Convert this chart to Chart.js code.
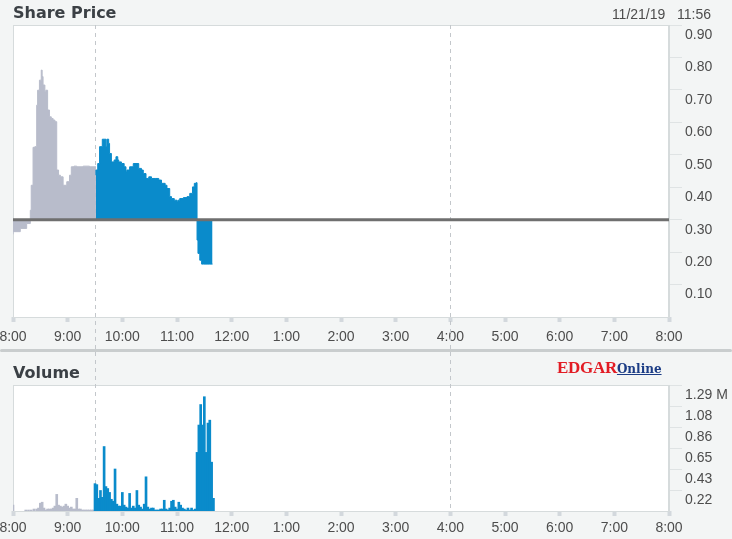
<!DOCTYPE html>
<html>
<head>
<meta charset="utf-8">
<script src="https://cdn.jsdelivr.net/npm/chart.js@4"></script>
<style>
  body { margin: 0; background: #f3f5f5; }
  #wrap { position: relative; width: 732px; height: 539px; overflow: hidden; background: #f3f5f5; }
  canvas { position: absolute; left: 0; }
  #price { top: 0; }
  #volume { top: 352px; }
  .head { position: absolute; left: 13px; font: bold 16px 'DejaVu Sans', sans-serif; color: #3b4045; z-index: 2; }
  #date { position: absolute; right: 21px; top: 6px; font: 14px 'Liberation Sans', Arial, sans-serif; color: #4d4d4d; white-space: pre; z-index: 2; }
  #divider { position: absolute; left: 0; top: 349px; width: 732px; height: 3px; background: #c9cdce; border-radius: 2px; z-index: 2; }
  #logo { position: absolute; left: 557px; top: 358px; line-height: 18px; white-space: nowrap; z-index: 2; }
  #logo .e { font: bold 17px 'Liberation Serif', serif; color: #e21c24; letter-spacing: -0.3px; }
  #logo .o { font: bold 12px 'DejaVu Serif', serif; color: #1b3c85; text-decoration: underline; }
</style>
</head>
<body>
<div id="wrap">
  <canvas id="price" width="732" height="349"></canvas>
  <canvas id="volume" width="732" height="187"></canvas>
  <div class="head" style="top:3px">Share Price</div>
  <div id="date">11/21/19   11:56</div>
  <div id="divider"></div>
  <div class="head" style="top:363px">Volume</div>
  <div id="logo"><span class="e">EDGAR</span><span class="o">Online</span></div>
</div>
<script>
// minutes after 8:00
const timeLabels = ['8:00', '9:00', '10:00', '11:00', '12:00', '1:00', '2:00', '3:00', '4:00', '5:00', '6:00', '7:00', '8:00'];
const sessionMarks = [90, 480];   // 9:30 open, 4:00 close
const prevClose = 0.30;

const preTimes = [0, 8, 15, 19, 20, 22, 24, 26, 27, 29, 31, 32, 33, 35, 36, 38, 40, 42, 44, 46,
                  48, 50, 52, 55, 59, 62, 64, 67, 70, 77, 84, 91];
const prePrices = [0.255, 0.263, 0.273, 0.288, 0.329, 0.406, 0.523, 0.525, 0.653, 0.699, 0.730, 0.761, 0.741, 0.715, 0.694, 0.699, 0.638, 0.617, 0.612, 0.607,
                   0.602, 0.453, 0.437, 0.432, 0.406, 0.417, 0.437, 0.463, 0.465, 0.463, 0.465, 0.463];

const regTimes = [91, 93, 95, 98, 100, 102, 103, 105, 106, 108, 111, 113, 115, 116, 119, 122, 124, 125, 128, 132,
                  135, 138, 141, 143, 146, 149, 152, 156, 160, 163, 167, 169, 172, 174, 177, 180, 181, 183, 187, 191,
                  194, 197, 199, 201, 202, 203, 205, 207, 209, 213, 216, 219];
const regPrices = [0.437, 0.453, 0.473, 0.525, 0.548, 0.548, 0.525, 0.548, 0.535, 0.504, 0.478, 0.484, 0.494, 0.484, 0.478, 0.473, 0.463, 0.448, 0.453, 0.463,
                   0.473, 0.473, 0.458, 0.453, 0.442, 0.427, 0.432, 0.427, 0.427, 0.422, 0.412, 0.406, 0.396, 0.371, 0.365, 0.360, 0.355, 0.360, 0.365, 0.368,
                   0.371, 0.381, 0.401, 0.412, 0.414, 0.237, 0.196, 0.175, 0.163, 0.163, 0.163, 0.163];

const priceTicks = [0.1, 0.2, 0.3, 0.4, 0.5, 0.6, 0.7, 0.8, 0.9];
const priceTickLabels = ['0.10', '0.20', '0.30', '0.40', '0.50', '0.60', '0.70', '0.80', '0.90'];

// volume in millions
const preVolTimes = [0, 14, 17, 20, 23, 26, 28, 30, 32, 34, 36, 38, 40, 42, 44, 46, 48, 50, 52, 54,
                     56, 58, 60, 62, 64, 66, 68, 70, 72, 74, 76, 78, 80, 82, 84, 86, 88];
const preVolumes = [0.06, 0.01, 0.01, 0.01, 0.02, 0.02, 0.03, 0.08, 0.09, 0.03, 0.01, 0.02, 0.02, 0.02, 0.03, 0.05, 0.17, 0.06, 0.05, 0.04,
                    0.05, 0.07, 0.05, 0.03, 0.04, 0.02, 0.02, 0.13, 0.02, 0.02, 0.01, 0.01, 0.01, 0.01, 0.01, 0.01, 0.01];

const regVolTimes = [90, 92, 94, 96, 98, 100, 102, 104, 106, 108, 110, 112, 114, 116, 118, 120, 122, 124, 126, 128,
                     130, 132, 134, 136, 138, 140, 142, 144, 146, 148, 150, 152, 154, 156, 158, 160, 162, 164, 166, 168,
                     170, 172, 174, 176, 178, 180, 182, 184, 186, 188, 190, 192, 194, 196, 198, 200, 202, 204, 206, 208,
                     210, 212, 214, 216, 218, 220];
const regVolumes = [0.28, 0.27, 0.13, 0.21, 0.14, 0.66, 0.25, 0.23, 0.19, 0.12, 0.10, 0.43, 0.07, 0.05, 0.05, 0.19, 0.06, 0.04, 0.03, 0.18,
                    0.03, 0.05, 0.03, 0.21, 0.06, 0.04, 0.02, 0.07, 0.35, 0.04, 0.02, 0.03, 0.03, 0.01, 0.01, 0.01, 0.02, 0.02, 0.11, 0.02,
                    0.01, 0.03, 0.10, 0.11, 0.04, 0.02, 0.09, 0.06, 0.03, 0.02, 0.01, 0.03, 0.01, 0.03, 0.01, 0.02, 0.60, 0.88, 1.09, 0.88,
                    1.17, 0.60, 0.90, 0.93, 0.50, 0.13];

const volTicks = [0.215, 0.43, 0.645, 0.86, 1.075, 1.29];
const volTickLabels = ['0.22', '0.43', '0.65', '0.86', '1.08', '1.29 M'];

const GRAY = '#b8bccb';
const BLUE = '#0a8bcb';
const labelFont = { family: "'Liberation Sans', Arial, sans-serif", size: 14 };
const labelColor = '#4d4d4d';

const toPoints = (xs, ys) => xs.map((x, i) => ({ x: x, y: ys[i] }));

// white plot area, frame and session dashed lines
const panelPlugin = {
    id: 'panel',
    beforeDraw (chart) {
        const { ctx, chartArea: a } = chart;
        ctx.save();
        ctx.fillStyle = '#ffffff';
        ctx.fillRect(a.left, a.top, a.right - a.left, a.bottom - a.top);
        ctx.restore();
    },
    beforeDatasetsDraw (chart, args, opts) {
        const { ctx, chartArea: a } = chart;
        const xScale = chart.scales.x;
        ctx.save();
        ctx.strokeStyle = '#d6dbdc';
        ctx.lineWidth = 1;
        ctx.strokeRect(a.left + 0.5, a.top + 0.5, a.right - a.left - 1, a.bottom - a.top);
        ctx.strokeStyle = '#c3c7cb';
        ctx.setLineDash([4, 4]);
        const y0 = opts.fromCanvasTop ? 0 : a.top;
        const y1 = opts.fromCanvasTop ? a.bottom : chart.height;
        sessionMarks.forEach(m => {
            const x = Math.round(xScale.getPixelForValue(m)) + 0.5;
            ctx.beginPath();
            ctx.moveTo(x, y0);
            ctx.lineTo(x, y1);
            ctx.stroke();
        });
        ctx.restore();
    }
};

const xAxis = (pad, h) => ({
    type: 'linear',
    min: 0,
    max: 720,
    offset: false,
    ticks: {
        stepSize: 60,
        autoSkip: false,
        maxRotation: 0,
        padding: pad,
        color: labelColor,
        font: labelFont,
        callback: v => timeLabels[Math.round(v / 60)]
    },
    grid: { drawOnChartArea: false, offset: false, tickLength: 5, tickWidth: 4, tickColor: '#d3d8dd' },
    border: { display: false },
    afterFit: s => {
        s.height = h;
        s.paddingLeft = 0;
        s.paddingRight = 0;
    }
});

new Chart(document.getElementById('price'), {
    type: 'line',
    plugins: [panelPlugin],
    data: {
        datasets: [
            {
                data: [{ x: 0, y: prevClose }, { x: 720, y: prevClose }],
                borderColor: '#6f6f6f',
                borderWidth: 3,
                pointRadius: 0,
                fill: false
            },
            {
                data: toPoints(regTimes, regPrices),
                borderColor: BLUE,
                backgroundColor: BLUE,
                borderWidth: 1,
                pointRadius: 0,
                stepped: 'after',
                fill: { value: prevClose }
            },
            {
                data: toPoints(preTimes, prePrices),
                borderColor: GRAY,
                backgroundColor: GRAY,
                borderWidth: 1,
                pointRadius: 0,
                stepped: 'after',
                fill: { value: prevClose }
            }
        ]
    },
    options: {
        responsive: false,
        animation: false,
        devicePixelRatio: 1,
        layout: { padding: { left: 13, top: 25, right: 0, bottom: 0 } },
        plugins: {
            legend: { display: false },
            tooltip: { enabled: false },
            panel: { fromCanvasTop: false }
        },
        scales: {
            x: xAxis(7, 32),
            y: {
                position: 'right',
                min: 0,
                max: 0.9,
                afterBuildTicks: s => { s.ticks = priceTicks.map(v => ({ value: v })); },
                ticks: {
                    labelOffset: 10,
                    padding: 3,
                    color: labelColor,
                    font: labelFont,
                    callback: (v, i) => priceTickLabels[i]
                },
                grid: { drawOnChartArea: false, tickLength: 13, color: '#dfe3e4' },
                border: { color: '#d6dbdc' },
                afterFit: s => { s.width = 63; }
            }
        }
    }
});

new Chart(document.getElementById('volume'), {
    type: 'bar',
    plugins: [panelPlugin],
    data: {
        datasets: [
            {
                data: toPoints(regVolTimes, regVolumes),
                backgroundColor: BLUE,
                grouped: false,
                barThickness: 2
            },
            {
                data: toPoints(preVolTimes, preVolumes),
                backgroundColor: GRAY,
                grouped: false,
                barThickness: 2
            }
        ]
    },
    options: {
        responsive: false,
        animation: false,
        devicePixelRatio: 1,
        layout: { padding: { left: 13, top: 33, right: 0, bottom: 0 } },
        plugins: {
            legend: { display: false },
            tooltip: { enabled: false },
            panel: { fromCanvasTop: true }
        },
        scales: {
            x: xAxis(4, 28),
            y: {
                position: 'right',
                min: 0,
                max: 1.29,
                afterBuildTicks: s => { s.ticks = volTicks.map(v => ({ value: v })); },
                ticks: {
                    labelOffset: 10,
                    padding: 3,
                    color: labelColor,
                    font: labelFont,
                    callback: (v, i) => volTickLabels[i]
                },
                grid: { drawOnChartArea: false, tickLength: 13, color: '#dfe3e4' },
                border: { color: '#d6dbdc' },
                afterFit: s => { s.width = 63; }
            }
        }
    }
});
</script>
</body>
</html>
